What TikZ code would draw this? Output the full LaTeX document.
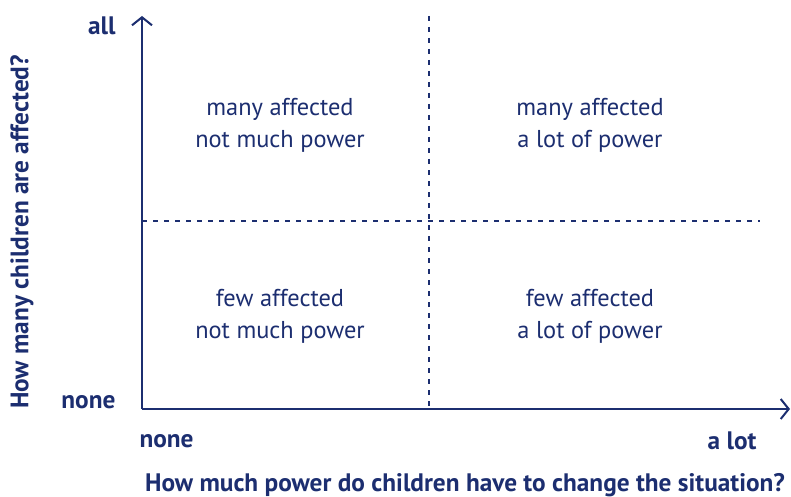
\documentclass[tikz,border=0pt]{standalone}
\usepackage{fontspec}
\setmainfont{PT Sans}
\usetikzlibrary{arrows.meta}
\definecolor{navy}{RGB}{28,46,112}
\begin{document}
\begin{tikzpicture}[x=1pt,y=-1pt,
  axis/.style={navy,line width=2.2pt,-{Straight Barb[length=8pt,width=20pt,line width=2pt]}},
  grid/.style={navy,line width=1.1pt,dash pattern=on 5pt off 6pt},
  quad/.style={navy,font=\fontsize{24.4}{32}\selectfont,align=center},
  lab/.style={navy,font=\fontsize{25.3}{28}\selectfont\bfseries}]
\useasboundingbox (0,0) rectangle (791,497);
\coordinate (o) at (142,409);
\coordinate (ytop) at (142,16);
\coordinate (xend) at (790,409);
\coordinate (vtop) at (429,16);
\coordinate (vbot) at (429,409);
\coordinate (hl) at (142,221);
\coordinate (hr) at (760,221);
\draw[grid] (vtop) -- (vbot);
\draw[grid] (hl) -- (hr);
\draw[axis] (o) -- (ytop);
\draw[axis] (o) -- (xend);
\node[quad] (q1) at (280,125) {many affected\\not much power};
\node[quad] (q2) at (590,125) {many affected\\a lot of power};
\node[quad] (q3) at (280,316) {few affected\\not much power};
\node[quad] (q4) at (590,316) {few affected\\a lot of power};
\node[lab,anchor=east] (yall) at (119,26) {all};
\node[lab,anchor=east] (ynone) at (119,402) {none};
\node[lab,anchor=west] (xnone) at (136,441) {none};
\node[lab,anchor=east] (xlot) at (760,441) {a lot};
\node[lab] (xt) at (465,485) {How much power do children have to change the situation?};
\node[lab,rotate=90] (yt) at (22,232) {How many children are affected?};
\end{tikzpicture}
\end{document}
